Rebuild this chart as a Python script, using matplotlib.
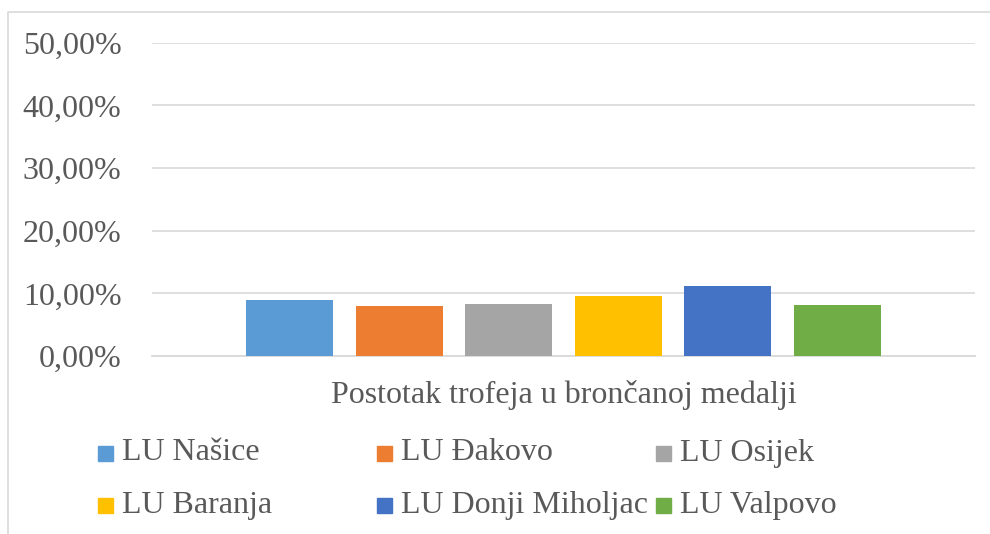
import matplotlib
matplotlib.use("Agg")
import matplotlib.pyplot as plt
import matplotlib.ticker as mticker
from matplotlib.lines import Line2D
from matplotlib.patches import Rectangle

# ── Data ──────────────────────────────────────────────────────────────────────
category = "Postotak trofeja u brončanoj medalji"
series = ["LU Našice", "LU Đakovo", "LU Osijek",
          "LU Baranja", "LU Donji Miholjac", "LU Valpovo"]
values = [0.0893, 0.0797, 0.0829, 0.0957, 0.1118, 0.0813]
colors = ["#5B9BD5", "#ED7D31", "#A5A5A5", "#FFC000", "#4472C4", "#70AD47"]
y_ticks = [0.0, 0.1, 0.2, 0.3, 0.4, 0.5]

TXT = "#595959"
GRID = "#D9D9D9"
FS = 23
plt.rcParams["font.family"] = ["Liberation Serif", "DejaVu Serif"]

W, H = 990, 534
fig = plt.figure(figsize=(W / 100, H / 100), dpi=100)
ax = fig.add_axes([152 / W, 1 - 356 / H, (975 - 152) / W, (356 - 42.7) / H])

slot = 109.6 / 823
bw = 87 / 823
for i, (name, v, c) in enumerate(zip(series, values, colors)):
    ax.bar((i - 2.5) * slot, v, width=bw, color=c, zorder=3)

ax.set_xlim(-0.5, 0.5)
ax.set_ylim(0, 0.5)
ax.set_yticks(y_ticks)
ax.yaxis.set_major_formatter(
    mticker.FuncFormatter(lambda v, p: f"{v * 100:.2f}%".replace(".", ",")))
ax.set_xticks([0])
ax.set_xticklabels([category])
ax.tick_params(axis="y", length=0, pad=22, labelsize=FS, labelcolor=TXT)
ax.tick_params(axis="x", length=0, pad=17, labelsize=FS, labelcolor=TXT)
ax.grid(axis="y", color=GRID, linewidth=1.2, zorder=0)
for s in ["top", "right", "left"]:
    ax.spines[s].set_visible(False)
ax.spines["bottom"].set_color(GRID)
ax.spines["bottom"].set_linewidth(1.3)

# ── Legend (Excel-style, equal column widths) ────────────────────────────────
col_x = [98, 377, 656]
row_y = [453, 505]
for i, (name, c) in enumerate(zip(series, colors)):
    x0 = col_x[i % 3]
    yc = row_y[i // 3]
    fig.patches.append(Rectangle((x0 / W, 1 - (yc + 8) / H), 15 / W, 15 / H,
                                 transform=fig.transFigure, color=c))
    fig.text((x0 + 24) / W, 1 - yc / H, name, fontsize=FS, color=TXT,
             va="center", ha="left")

# chart border (top and left visible)
fig.lines.append(Line2D([8 / W, 8 / W, 1.0], [0, 1 - 12 / H, 1 - 12 / H],
                        transform=fig.transFigure, color=GRID, linewidth=1.2))

fig.savefig("out.png", dpi=100)
